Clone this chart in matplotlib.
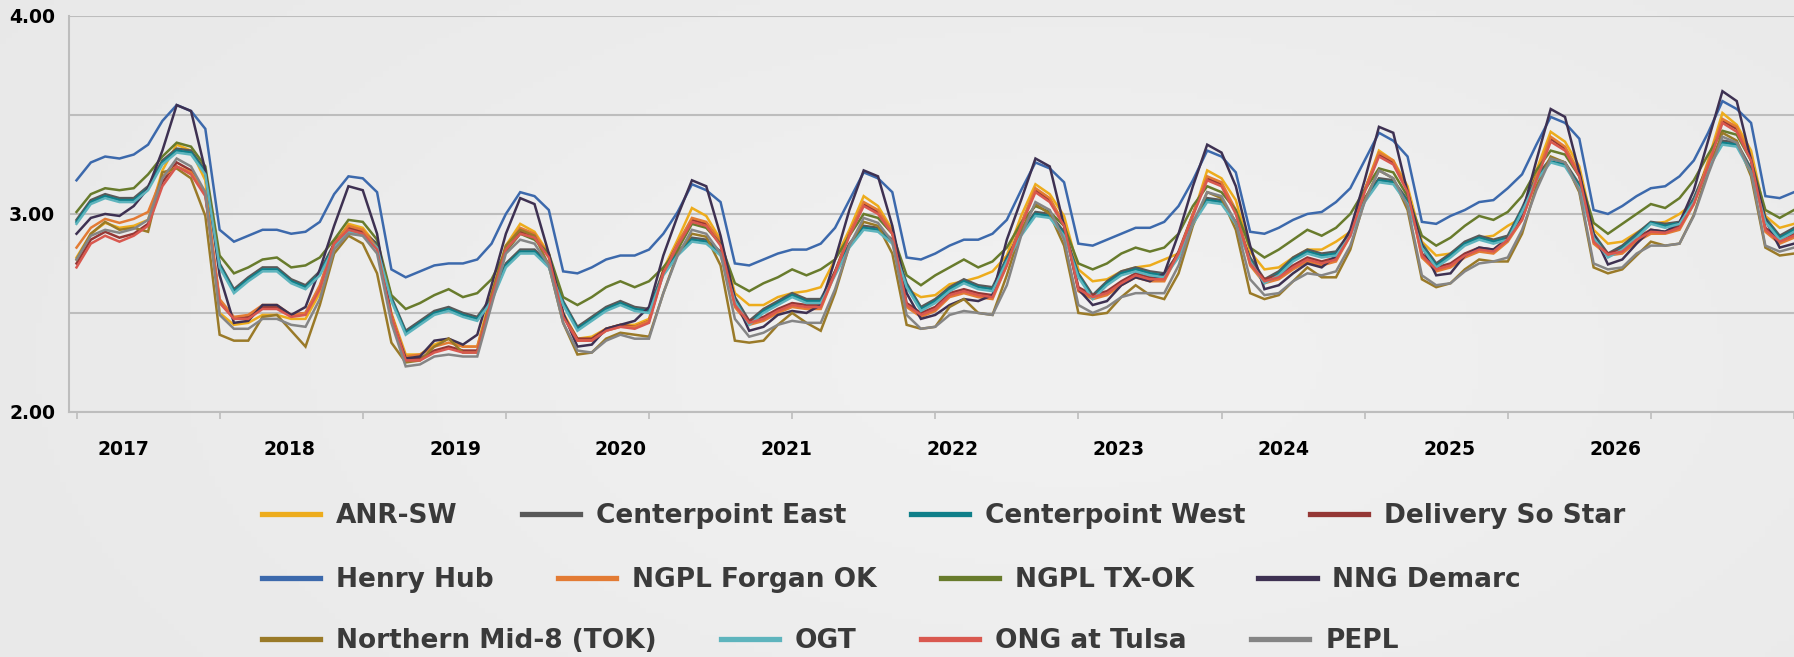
import numpy as np
import matplotlib.pyplot as plt
from matplotlib.lines import Line2D

# monthly forward prices, one value per month starting mid-2016
anr_sw = [2.78, 2.90, 2.955, 2.93, 2.94, 2.97, 3.22, 3.35, 3.32, 3.17,
          2.50, 2.44, 2.45, 2.49, 2.49, 2.47, 2.47, 2.60, 2.84, 2.95,
          2.93, 2.84, 2.50, 2.29, 2.29, 2.34, 2.37, 2.33, 2.33, 2.60,
          2.84, 2.95, 2.91, 2.80, 2.50, 2.37, 2.38, 2.42, 2.44, 2.44,
          2.47, 2.72, 2.87, 3.03, 2.99, 2.87, 2.60, 2.54, 2.54, 2.58,
          2.60, 2.61, 2.63, 2.77, 2.92, 3.09, 3.04, 2.92, 2.62, 2.58,
          2.59, 2.645, 2.66, 2.68, 2.71, 2.79, 2.99, 3.15, 3.10, 2.99,
          2.72, 2.66, 2.67, 2.71, 2.73, 2.74, 2.77, 2.80, 2.99, 3.22,
          3.18, 3.07, 2.81, 2.72, 2.73, 2.78, 2.82, 2.82, 2.86, 2.91,
          3.12, 3.32, 3.27, 3.14, 2.86, 2.79, 2.80, 2.85, 2.88, 2.89,
          2.94, 2.98, 3.22, 3.415, 3.365, 3.24, 2.92, 2.85, 2.86, 2.905,
          2.95, 2.96, 3.00, 3.055, 3.27, 3.51, 3.45, 3.32, 2.99, 2.93,
          2.95]
centerpoint_east = [2.97, 3.07, 3.10, 3.08, 3.08, 3.14, 3.27, 3.33, 3.32, 3.22,
                    2.75, 2.62, 2.68, 2.73, 2.73, 2.67, 2.64, 2.71, 2.85, 2.93,
                    2.91, 2.85, 2.58, 2.41, 2.46, 2.51, 2.53, 2.50, 2.48, 2.58,
                    2.75, 2.82, 2.82, 2.75, 2.56, 2.43, 2.48, 2.53, 2.56, 2.53,
                    2.52, 2.71, 2.81, 2.88, 2.87, 2.81, 2.58, 2.46, 2.52, 2.56,
                    2.60, 2.57, 2.57, 2.71, 2.85, 2.94, 2.93, 2.87, 2.65, 2.53,
                    2.57, 2.63, 2.67, 2.64, 2.63, 2.78, 2.91, 3.01, 3.00, 2.91,
                    2.70, 2.59, 2.66, 2.71, 2.73, 2.71, 2.70, 2.80, 2.96, 3.08,
                    3.07, 2.96, 2.78, 2.67, 2.71, 2.78, 2.82, 2.80, 2.81, 2.91,
                    3.08, 3.18, 3.17, 3.07, 2.85, 2.75, 2.80, 2.86, 2.89, 2.87,
                    2.89, 3.03, 3.19, 3.28, 3.26, 3.15, 2.90, 2.80, 2.84, 2.90,
                    2.96, 2.95, 2.96, 3.08, 3.25, 3.37, 3.36, 3.23, 2.98, 2.89,
                    2.93]
centerpoint_west = [2.96, 3.06, 3.09, 3.07, 3.07, 3.13, 3.26, 3.32, 3.31, 3.21,
                    2.74, 2.61, 2.67, 2.72, 2.72, 2.66, 2.63, 2.70, 2.84, 2.92,
                    2.90, 2.84, 2.57, 2.40, 2.45, 2.50, 2.52, 2.49, 2.47, 2.57,
                    2.74, 2.81, 2.81, 2.74, 2.55, 2.42, 2.47, 2.52, 2.55, 2.52,
                    2.51, 2.70, 2.80, 2.87, 2.86, 2.80, 2.57, 2.45, 2.51, 2.55,
                    2.59, 2.56, 2.56, 2.70, 2.84, 2.93, 2.92, 2.86, 2.64, 2.52,
                    2.56, 2.62, 2.66, 2.63, 2.62, 2.77, 2.90, 3.00, 2.99, 2.90,
                    2.69, 2.58, 2.65, 2.70, 2.72, 2.70, 2.69, 2.79, 2.955, 3.07,
                    3.06, 2.955, 2.77, 2.66, 2.70, 2.77, 2.81, 2.79, 2.80, 2.90,
                    3.07, 3.17, 3.16, 3.06, 2.84, 2.74, 2.79, 2.85, 2.88, 2.86,
                    2.88, 3.02, 3.18, 3.265, 3.25, 3.14, 2.89, 2.79, 2.83, 2.89,
                    2.955, 2.94, 2.955, 3.07, 3.24, 3.36, 3.35, 3.22, 2.97, 2.88,
                    2.92]
delivery_so_star = [2.75, 2.87, 2.91, 2.88, 2.90, 2.95, 3.16, 3.26, 3.22, 3.10,
                    2.56, 2.47, 2.48, 2.53, 2.53, 2.49, 2.50, 2.63, 2.86, 2.93,
                    2.91, 2.83, 2.49, 2.27, 2.27, 2.31, 2.33, 2.31, 2.31, 2.58,
                    2.83, 2.91, 2.89, 2.79, 2.49, 2.37, 2.37, 2.42, 2.44, 2.43,
                    2.46, 2.71, 2.85, 2.97, 2.95, 2.85, 2.55, 2.46, 2.48, 2.52,
                    2.55, 2.54, 2.54, 2.71, 2.90, 3.05, 3.01, 2.91, 2.55, 2.50,
                    2.53, 2.60, 2.62, 2.60, 2.59, 2.75, 2.95, 3.12, 3.07, 2.95,
                    2.63, 2.59, 2.61, 2.66, 2.70, 2.68, 2.68, 2.81, 3.00, 3.18,
                    3.15, 3.01, 2.76, 2.67, 2.69, 2.74, 2.78, 2.76, 2.78, 2.90,
                    3.12, 3.30, 3.26, 3.12, 2.80, 2.73, 2.75, 2.80, 2.83, 2.82,
                    2.88, 2.98, 3.18, 3.38, 3.33, 3.20, 2.87, 2.80, 2.82, 2.88,
                    2.92, 2.91, 2.94, 3.06, 3.25, 3.47, 3.43, 3.28, 2.93, 2.87,
                    2.90]
henry_hub = [3.17, 3.26, 3.29, 3.28, 3.30, 3.35, 3.47, 3.55, 3.52, 3.43,
             2.92, 2.86, 2.89, 2.92, 2.92, 2.90, 2.91, 2.96, 3.10, 3.19,
             3.18, 3.11, 2.72, 2.68, 2.71, 2.74, 2.75, 2.75, 2.77, 2.85,
             3.00, 3.11, 3.09, 3.02, 2.71, 2.70, 2.73, 2.77, 2.79, 2.79,
             2.82, 2.90, 3.01, 3.15, 3.12, 3.06, 2.75, 2.74, 2.77, 2.80,
             2.82, 2.82, 2.85, 2.93, 3.07, 3.21, 3.18, 3.11, 2.78, 2.77,
             2.80, 2.84, 2.87, 2.87, 2.90, 2.97, 3.12, 3.26, 3.23, 3.16,
             2.85, 2.84, 2.87, 2.90, 2.93, 2.93, 2.96, 3.04, 3.17, 3.32,
             3.29, 3.21, 2.91, 2.90, 2.93, 2.97, 3.00, 3.01, 3.06, 3.13,
             3.27, 3.41, 3.37, 3.29, 2.96, 2.95, 2.99, 3.02, 3.06, 3.07,
             3.13, 3.20, 3.35, 3.49, 3.46, 3.38, 3.02, 3.00, 3.04, 3.09,
             3.13, 3.14, 3.19, 3.27, 3.41, 3.57, 3.53, 3.46, 3.09, 3.08,
             3.11]
ngpl_forgan = [2.83, 2.93, 2.975, 2.955, 2.975, 3.01, 3.19, 3.24, 3.21, 3.11,
               2.57, 2.48, 2.49, 2.54, 2.54, 2.49, 2.50, 2.64, 2.85, 2.94,
               2.92, 2.83, 2.49, 2.28, 2.29, 2.33, 2.35, 2.33, 2.33, 2.58,
               2.83, 2.93, 2.90, 2.79, 2.49, 2.36, 2.36, 2.41, 2.43, 2.43,
               2.46, 2.70, 2.85, 2.98, 2.96, 2.86, 2.53, 2.44, 2.46, 2.50,
               2.53, 2.52, 2.52, 2.70, 2.90, 3.06, 3.02, 2.91, 2.53, 2.48,
               2.51, 2.58, 2.60, 2.58, 2.57, 2.74, 2.95, 3.13, 3.08, 2.95,
               2.61, 2.57, 2.59, 2.64, 2.68, 2.66, 2.66, 2.80, 3.00, 3.19,
               3.16, 3.02, 2.74, 2.65, 2.67, 2.72, 2.76, 2.74, 2.76, 2.89,
               3.12, 3.31, 3.27, 3.12, 2.78, 2.71, 2.73, 2.78, 2.81, 2.80,
               2.86, 2.97, 3.19, 3.39, 3.34, 3.21, 2.85, 2.79, 2.80, 2.86,
               2.90, 2.90, 2.92, 3.05, 3.26, 3.48, 3.44, 3.29, 2.91, 2.85,
               2.88]
ngpl_tx_ok = [3.01, 3.10, 3.13, 3.12, 3.13, 3.20, 3.29, 3.36, 3.34, 3.24,
              2.79, 2.70, 2.73, 2.77, 2.78, 2.73, 2.74, 2.78, 2.87, 2.97,
              2.96, 2.87, 2.59, 2.52, 2.55, 2.59, 2.62, 2.58, 2.60, 2.67,
              2.81, 2.90, 2.87, 2.80, 2.58, 2.54, 2.58, 2.63, 2.66, 2.63,
              2.66, 2.73, 2.82, 2.95, 2.93, 2.85, 2.65, 2.61, 2.65, 2.68,
              2.72, 2.69, 2.72, 2.77, 2.89, 3.00, 2.98, 2.90, 2.69, 2.64,
              2.69, 2.73, 2.77, 2.73, 2.76, 2.83, 2.955, 3.04, 3.01, 2.94,
              2.75, 2.72, 2.75, 2.80, 2.83, 2.81, 2.83, 2.90, 3.04, 3.14,
              3.11, 3.02, 2.83, 2.78, 2.82, 2.87, 2.92, 2.89, 2.93, 3.00,
              3.12, 3.23, 3.21, 3.09, 2.89, 2.84, 2.88, 2.94, 2.99, 2.97,
              3.01, 3.09, 3.22, 3.32, 3.30, 3.19, 2.955, 2.90, 2.95, 3.00,
              3.05, 3.03, 3.08, 3.17, 3.30, 3.42, 3.40, 3.27, 3.02, 2.98,
              3.02]
nng_demarc = [2.90, 2.98, 3.00, 2.99, 3.04, 3.13, 3.32, 3.55, 3.52, 3.22,
              2.69, 2.45, 2.46, 2.54, 2.54, 2.49, 2.53, 2.72, 2.94, 3.14,
              3.12, 2.90, 2.47, 2.27, 2.28, 2.36, 2.37, 2.34, 2.39, 2.64,
              2.90, 3.08, 3.05, 2.80, 2.50, 2.33, 2.34, 2.42, 2.44, 2.46,
              2.53, 2.79, 2.99, 3.17, 3.14, 2.89, 2.57, 2.41, 2.43, 2.49,
              2.51, 2.50, 2.54, 2.77, 3.02, 3.22, 3.19, 2.94, 2.60, 2.47,
              2.49, 2.54, 2.57, 2.56, 2.59, 2.87, 3.07, 3.28, 3.24, 2.94,
              2.62, 2.54, 2.56, 2.64, 2.68, 2.66, 2.70, 2.90, 3.14, 3.35,
              3.31, 3.14, 2.84, 2.62, 2.64, 2.70, 2.75, 2.73, 2.79, 2.92,
              3.17, 3.44, 3.41, 3.11, 2.84, 2.69, 2.70, 2.79, 2.83, 2.82,
              2.87, 3.00, 3.27, 3.53, 3.49, 3.21, 2.90, 2.745, 2.77, 2.85,
              2.92, 2.91, 2.955, 3.12, 3.37, 3.62, 3.57, 3.27, 2.97, 2.83,
              2.85]
northern_mid8 = [2.77, 2.90, 2.96, 2.92, 2.93, 2.91, 3.21, 3.23, 3.18, 2.99,
                 2.39, 2.36, 2.36, 2.48, 2.49, 2.41, 2.33, 2.54, 2.80, 2.89,
                 2.85, 2.70, 2.35, 2.25, 2.26, 2.33, 2.37, 2.30, 2.30, 2.59,
                 2.84, 2.92, 2.89, 2.74, 2.45, 2.29, 2.30, 2.37, 2.40, 2.39,
                 2.38, 2.60, 2.80, 2.90, 2.885, 2.74, 2.36, 2.35, 2.36, 2.44,
                 2.50, 2.45, 2.41, 2.60, 2.84, 2.96, 2.94, 2.80, 2.44, 2.42,
                 2.43, 2.53, 2.57, 2.50, 2.49, 2.69, 2.92, 3.05, 3.00, 2.84,
                 2.50, 2.49, 2.50, 2.58, 2.64, 2.59, 2.57, 2.70, 2.94, 3.11,
                 3.08, 2.92, 2.60, 2.57, 2.59, 2.66, 2.73, 2.68, 2.68, 2.82,
                 3.07, 3.22, 3.18, 3.02, 2.67, 2.63, 2.65, 2.72, 2.77, 2.76,
                 2.76, 2.90, 3.14, 3.29, 3.26, 3.11, 2.73, 2.70, 2.72, 2.79,
                 2.86, 2.84, 2.85, 2.995, 3.22, 3.41, 3.37, 3.19, 2.83, 2.79,
                 2.80]
ogt = [2.95, 3.05, 3.08, 3.06, 3.06, 3.12, 3.25, 3.31, 3.30, 3.20,
       2.73, 2.60, 2.66, 2.71, 2.71, 2.65, 2.62, 2.69, 2.83, 2.91,
       2.89, 2.83, 2.56, 2.39, 2.44, 2.49, 2.51, 2.48, 2.46, 2.56,
       2.73, 2.80, 2.80, 2.73, 2.54, 2.41, 2.46, 2.51, 2.54, 2.51,
       2.50, 2.69, 2.79, 2.86, 2.85, 2.79, 2.56, 2.44, 2.50, 2.54,
       2.58, 2.55, 2.55, 2.69, 2.83, 2.92, 2.91, 2.85, 2.63, 2.51,
       2.55, 2.61, 2.65, 2.62, 2.61, 2.76, 2.89, 2.99, 2.98, 2.89,
       2.68, 2.57, 2.64, 2.69, 2.71, 2.69, 2.68, 2.78, 2.95, 3.06,
       3.05, 2.95, 2.76, 2.65, 2.69, 2.76, 2.80, 2.78, 2.79, 2.89,
       3.06, 3.16, 3.15, 3.05, 2.83, 2.73, 2.78, 2.84, 2.87, 2.85,
       2.87, 3.01, 3.17, 3.26, 3.24, 3.13, 2.88, 2.78, 2.82, 2.88,
       2.95, 2.93, 2.95, 3.06, 3.23, 3.35, 3.34, 3.21, 2.96, 2.87,
       2.91]
ong_tulsa = [2.73, 2.85, 2.89, 2.86, 2.89, 2.94, 3.14, 3.24, 3.20, 3.09,
             2.55, 2.47, 2.47, 2.52, 2.52, 2.48, 2.49, 2.62, 2.85, 2.92,
             2.90, 2.82, 2.48, 2.26, 2.26, 2.30, 2.32, 2.30, 2.30, 2.57,
             2.82, 2.90, 2.88, 2.78, 2.48, 2.36, 2.36, 2.41, 2.43, 2.42,
             2.45, 2.70, 2.84, 2.96, 2.94, 2.84, 2.54, 2.45, 2.47, 2.51,
             2.54, 2.53, 2.53, 2.70, 2.89, 3.04, 3.00, 2.90, 2.54, 2.49,
             2.52, 2.59, 2.61, 2.59, 2.58, 2.74, 2.94, 3.11, 3.06, 2.94,
             2.62, 2.58, 2.60, 2.65, 2.69, 2.67, 2.67, 2.80, 2.99, 3.17,
             3.14, 3.00, 2.75, 2.66, 2.68, 2.73, 2.77, 2.75, 2.77, 2.89,
             3.11, 3.29, 3.25, 3.11, 2.79, 2.72, 2.74, 2.79, 2.82, 2.81,
             2.87, 2.97, 3.17, 3.365, 3.32, 3.19, 2.86, 2.795, 2.81, 2.87,
             2.91, 2.905, 2.93, 3.05, 3.24, 3.46, 3.415, 3.27, 2.92, 2.86,
             2.89]
pepl = [2.77, 2.89, 2.92, 2.905, 2.925, 2.97, 3.18, 3.28, 3.24, 3.11,
        2.49, 2.42, 2.42, 2.47, 2.47, 2.44, 2.43, 2.57, 2.82, 2.90,
        2.89, 2.80, 2.45, 2.23, 2.24, 2.28, 2.29, 2.28, 2.28, 2.54,
        2.80, 2.87, 2.85, 2.74, 2.45, 2.31, 2.30, 2.36, 2.39, 2.37,
        2.37, 2.60, 2.79, 2.92, 2.90, 2.80, 2.47, 2.38, 2.40, 2.44,
        2.46, 2.45, 2.45, 2.62, 2.84, 2.98, 2.955, 2.86, 2.49, 2.42,
        2.43, 2.49, 2.51, 2.50, 2.49, 2.64, 2.89, 3.06, 3.02, 2.87,
        2.54, 2.50, 2.53, 2.58, 2.60, 2.60, 2.60, 2.74, 2.955, 3.11,
        3.09, 2.955, 2.67, 2.59, 2.60, 2.66, 2.70, 2.69, 2.71, 2.84,
        3.06, 3.22, 3.18, 3.04, 2.69, 2.64, 2.65, 2.71, 2.75, 2.76,
        2.78, 2.92, 3.12, 3.28, 3.26, 3.12, 2.75, 2.72, 2.73, 2.80,
        2.84, 2.84, 2.85, 2.99, 3.20, 3.39, 3.36, 3.21, 2.84, 2.81,
        2.83]

names = ['ANR-SW', 'Centerpoint East', 'Centerpoint West', 'Delivery So Star',
         'Henry Hub', 'NGPL Forgan OK', 'NGPL TX-OK', 'NNG Demarc',
         'Northern Mid-8 (TOK)', 'OGT', 'ONG at Tulsa', 'PEPL']
series = [anr_sw, centerpoint_east, centerpoint_west, delivery_so_star,
          henry_hub, ngpl_forgan, ngpl_tx_ok, nng_demarc,
          northern_mid8, ogt, ong_tulsa, pepl]
colors = ['#EDAC1C', '#595959', '#0F7F89', '#953735',
          '#3C69AC', '#E37B34', '#687B2C', '#3E3152',
          '#9A7A28', '#5EB4BD', '#D9584F', '#858585']
years = ['2017', '2018', '2019', '2020', '2021', '2022', '2023', '2024', '2025', '2026']

fig = plt.figure(figsize=(17.94, 6.57), dpi=100)

# soft gray gradient background
bg = fig.add_axes([0, 0, 1, 1])
gx, gy = np.meshgrid(np.linspace(0, 1, 300), np.linspace(0, 1, 120))
shade = 0.905 + 0.035 * np.exp(-((gx - 0.6) ** 2) / 0.25 - ((gy - 0.55) ** 2) / 0.5)
bg.imshow(shade, cmap='gray', vmin=0, vmax=1, aspect='auto', extent=[0, 1, 0, 1])
bg.axis('off')

ax = fig.add_axes([0.0385, 0.373, 0.9615, 0.6027])
ax.set_facecolor('none')
x = np.arange(len(henry_hub))
for vals, c in zip(series, colors):
    ax.plot(x, vals, color=c, lw=1.8, solid_joinstyle='miter')

ax.set_ylim(2.0, 4.0)
ax.set_xlim(-0.52, 119.7)
ax.set_yticks([2.0, 3.0, 4.0])
ax.set_yticks([2.5, 3.5], minor=True)
ax.set_yticklabels(['%.2f' % v for v in [2.0, 3.0, 4.0]], fontsize=13.5, fontweight='bold')
ax.tick_params(axis='y', which='both', length=0, pad=10)
ax.grid(axis='y', which='both', color='#BDBDBD', lw=1.5)
ax.set_axisbelow(True)
ax.set_xticks(np.arange(0, 121, 10))
ax.set_xticklabels([])
ax.tick_params(axis='x', length=5, width=1.2, color='#BDBDBD')
for s in ['top', 'right']:
    ax.spines[s].set_visible(False)
for s in ['left', 'bottom']:
    ax.spines[s].set_color('#BDBDBD')
    ax.spines[s].set_linewidth(1.5)

for k, yr in enumerate(years):
    ax.text(3.3 + 11.58 * k, -0.095, yr, transform=ax.get_xaxis_transform(),
            ha='center', va='center', fontsize=13.5, fontweight='bold')

# legend: three rows that flow from the same left edge
for r, ry in enumerate([0.2146, 0.1172, 0.0244]):
    rows = range(4 * r, 4 * r + 4)
    handles = [Line2D([], [], color=colors[i], lw=3.8) for i in rows]
    leg = fig.legend(handles, [names[i] for i in rows], ncol=4,
                     loc='center left', bbox_to_anchor=(0.1459, ry),
                     frameon=False, handlelength=2.2, handletextpad=0.6,
                     columnspacing=2.45, borderpad=0, borderaxespad=0,
                     prop={'size': 19, 'weight': 'bold'})
    for t in leg.get_texts():
        t.set_color('#3A3A3A')

fig.savefig('out.png', dpi=100)
